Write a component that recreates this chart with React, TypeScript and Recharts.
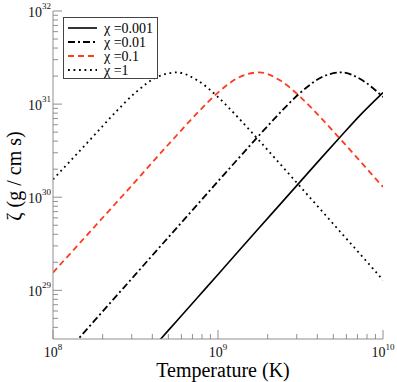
import { LineChart, Line, XAxis, YAxis, Legend } from 'recharts'

// temperature grid (K), log-spaced
const TEMPS = [1e8, 1.334e8, 1.778e8, 2.371e8, 3.162e8, 4.217e8, 5.623e8, 7.499e8, 1e9, 1.334e9, 1.778e9, 2.371e9, 3.162e9, 4.217e9, 5.623e9, 7.499e9, 1e10]

// zeta (g / cm s), one array per chi
const ZETA_CHI_0001 = [1.48e27, 2.64e27, 4.69e27, 8.34e27, 1.48e28, 2.64e28, 4.69e28, 8.34e28, 1.48e29, 2.64e29, 4.69e29, 8.33e29, 1.48e30, 2.63e30, 4.63e30, 8.04e30, 1.33e31]
const ZETA_CHI_001 = [1.48e28, 2.64e28, 4.69e28, 8.34e28, 1.48e29, 2.64e29, 4.69e29, 8.33e29, 1.48e30, 2.63e30, 4.63e30, 8.04e30, 1.33e31, 1.93e31, 2.19e31, 1.8e31, 1.19e31]
const ZETA_CHI_01 = [1.55e29, 2.72e29, 4.78e29, 8.4e29, 1.48e30, 2.63e30, 4.63e30, 8.04e30, 1.33e31, 1.93e31, 2.19e31, 1.8e31, 1.19e31, 7.07e30, 4.05e30, 2.29e30, 1.29e30]
const ZETA_CHI_1 = [1.55e30, 2.68e30, 4.63e30, 8.04e30, 1.33e31, 1.93e31, 2.19e31, 1.8e31, 1.19e31, 7.07e30, 4.05e30, 2.29e30, 1.29e30, 7.26e29, 4.08e29, 2.3e29, 1.29e29]

const X_TICKS = [1e8, 2e8, 3e8, 4e8, 5e8, 6e8, 7e8, 8e8, 9e8, 1e9, 2e9, 3e9, 4e9, 5e9, 6e9, 7e9, 8e9, 9e9, 1e10]
const Y_TICKS = [4e28, 5e28, 6e28, 7e28, 8e28, 9e28, 1e29, 2e29, 3e29, 4e29, 5e29, 6e29, 7e29, 8e29, 9e29, 1e30, 2e30, 3e30, 4e30, 5e30, 6e30, 7e30, 8e30, 9e30, 1e31, 2e31, 3e31, 4e31, 5e31, 6e31, 7e31, 8e31, 9e31, 1e32]

const SERIES = [
  { key: 'c0001', label: 'χ =0.001', color: '#000', dash: undefined as string | undefined, width: 1.6 },
  { key: 'c001', label: 'χ =0.01', color: '#000', dash: '7 3 2 3', width: 1.8 },
  { key: 'c01', label: 'χ =0.1', color: '#ff3a1f', dash: '6 4', width: 1.8 },
  { key: 'c1', label: 'χ =1', color: '#000', dash: '1.8 3.7', width: 1.8 },
]

const data = TEMPS.map((T, i) => ({
  T,
  c0001: ZETA_CHI_0001[i],
  c001: ZETA_CHI_001[i],
  c01: ZETA_CHI_01[i],
  c1: ZETA_CHI_1[i],
}))

const FONT = 'Liberation Serif'
const AXIS = '#8f8f8f'
const txt = (size: number) => ({ fontFamily: FONT, fontSize: size })

function decade(v: number) {
  const e = Math.log10(v)
  return Math.abs(e - Math.round(e)) < 1e-6 ? Math.round(e) : null
}

function XTick(props: any) {
  const { x, y, payload, side } = props
  const e = decade(payload.value)
  const len = e !== null ? 9 : 5
  const dir = side === 'bottom' ? -1 : 1
  return (
    <g>
      <line x1={x} x2={x} y1={y} y2={y + dir * len} stroke={AXIS} strokeWidth={1} />
      {side === 'bottom' && e !== null && (
        <text x={x} y={y + 18} textAnchor="middle" style={txt(14)} fill="#111">
          10<tspan dy={-7} style={txt(9)}>{e}</tspan>
        </text>
      )}
    </g>
  )
}

function YTick(props: any) {
  const { x, y, payload, side } = props
  const e = decade(payload.value)
  const len = e !== null ? 9 : 5
  const dir = side === 'left' ? 1 : -1
  return (
    <g>
      <line x1={x} x2={x + dir * len} y1={y} y2={y} stroke={AXIS} strokeWidth={1} />
      {side === 'left' && e !== null && (
        <text x={x - 2} y={y + 6} textAnchor="end" style={txt(14)} fill="#111">
          10<tspan dy={-8} style={txt(9)}>{e}</tspan>
        </text>
      )}
    </g>
  )
}

function LegendBox() {
  return (
    <svg width={95} height={62} style={{ display: 'block' }}>
      <rect x={0.5} y={0.5} width={94} height={61} fill="#fff" stroke="#444" />
      {SERIES.map((s, i) => {
        const cy = 11 + i * 14
        return (
          <g key={s.key}>
            <line x1={5} x2={34} y1={cy} y2={cy} stroke={s.color} strokeWidth={s.width} strokeDasharray={s.dash} />
            <text x={41} y={cy + 5} style={txt(14)} fill="#000">{s.label}</text>
          </g>
        )
      })}
    </svg>
  )
}

export default function App() {
  return (
    <div style={{ position: 'absolute', left: 0, top: 0, background: '#fff' }}>
      <LineChart width={397} height={382} data={data} margin={{ top: 11, right: 14, left: 0, bottom: 0 }}>
        <XAxis
          dataKey="T"
          type="number"
          scale="log"
          domain={[1e8, 1e10]}
          allowDataOverflow
          ticks={X_TICKS}
          interval={0}
          height={43}
          stroke={AXIS}
          tickLine={false}
          tickSize={0}
          tickMargin={0}
          tick={(p: any) => <XTick {...p} side="bottom" />}
          label={() => (
            <text x={223} y={377} textAnchor="middle" style={txt(20)} fill="#000">
              Temperature (K)
            </text>
          )}
        />
        <XAxis
          xAxisId="top"
          orientation="top"
          dataKey="T"
          type="number"
          scale="log"
          domain={[1e8, 1e10]}
          allowDataOverflow
          ticks={X_TICKS}
          interval={0}
          height={0}
          stroke={AXIS}
          tickLine={false}
          tickSize={0}
          tickMargin={0}
          tick={(p: any) => <XTick {...p} side="top" />}
        />
        <YAxis
          type="number"
          scale="log"
          domain={[3e28, 1e32]}
          allowDataOverflow
          ticks={Y_TICKS}
          interval={0}
          width={53}
          stroke={AXIS}
          tickLine={false}
          tickSize={0}
          tickMargin={0}
          tick={(p: any) => <YTick {...p} side="left" />}
          label={() => (
            <text
              x={21}
              y={176}
              textAnchor="middle"
              style={txt(20)}
              fill="#000"
              transform="rotate(-90, 21, 176)"
            >
              ζ (g / cm s)
            </text>
          )}
        />
        <YAxis
          yAxisId="right"
          orientation="right"
          type="number"
          scale="log"
          domain={[3e28, 1e32]}
          allowDataOverflow
          ticks={Y_TICKS}
          interval={0}
          width={0}
          stroke={AXIS}
          tickLine={false}
          tickSize={0}
          tickMargin={0}
          tick={(p: any) => <YTick {...p} side="right" />}
        />
        {SERIES.map((s) => (
          <Line
            key={s.key}
            dataKey={s.key}
            name={s.label}
            type="monotone"
            stroke={s.color}
            strokeWidth={s.width}
            strokeDasharray={s.dash}
            dot={false}
            activeDot={false}
            isAnimationActive={false}
          />
        ))}
        <Legend
          layout="vertical"
          align="center"
          verticalAlign="middle"
          wrapperStyle={{ left: 63, top: 17, width: 95, height: 62 }}
          content={() => <LegendBox />}
        />
      </LineChart>
    </div>
  )
}
